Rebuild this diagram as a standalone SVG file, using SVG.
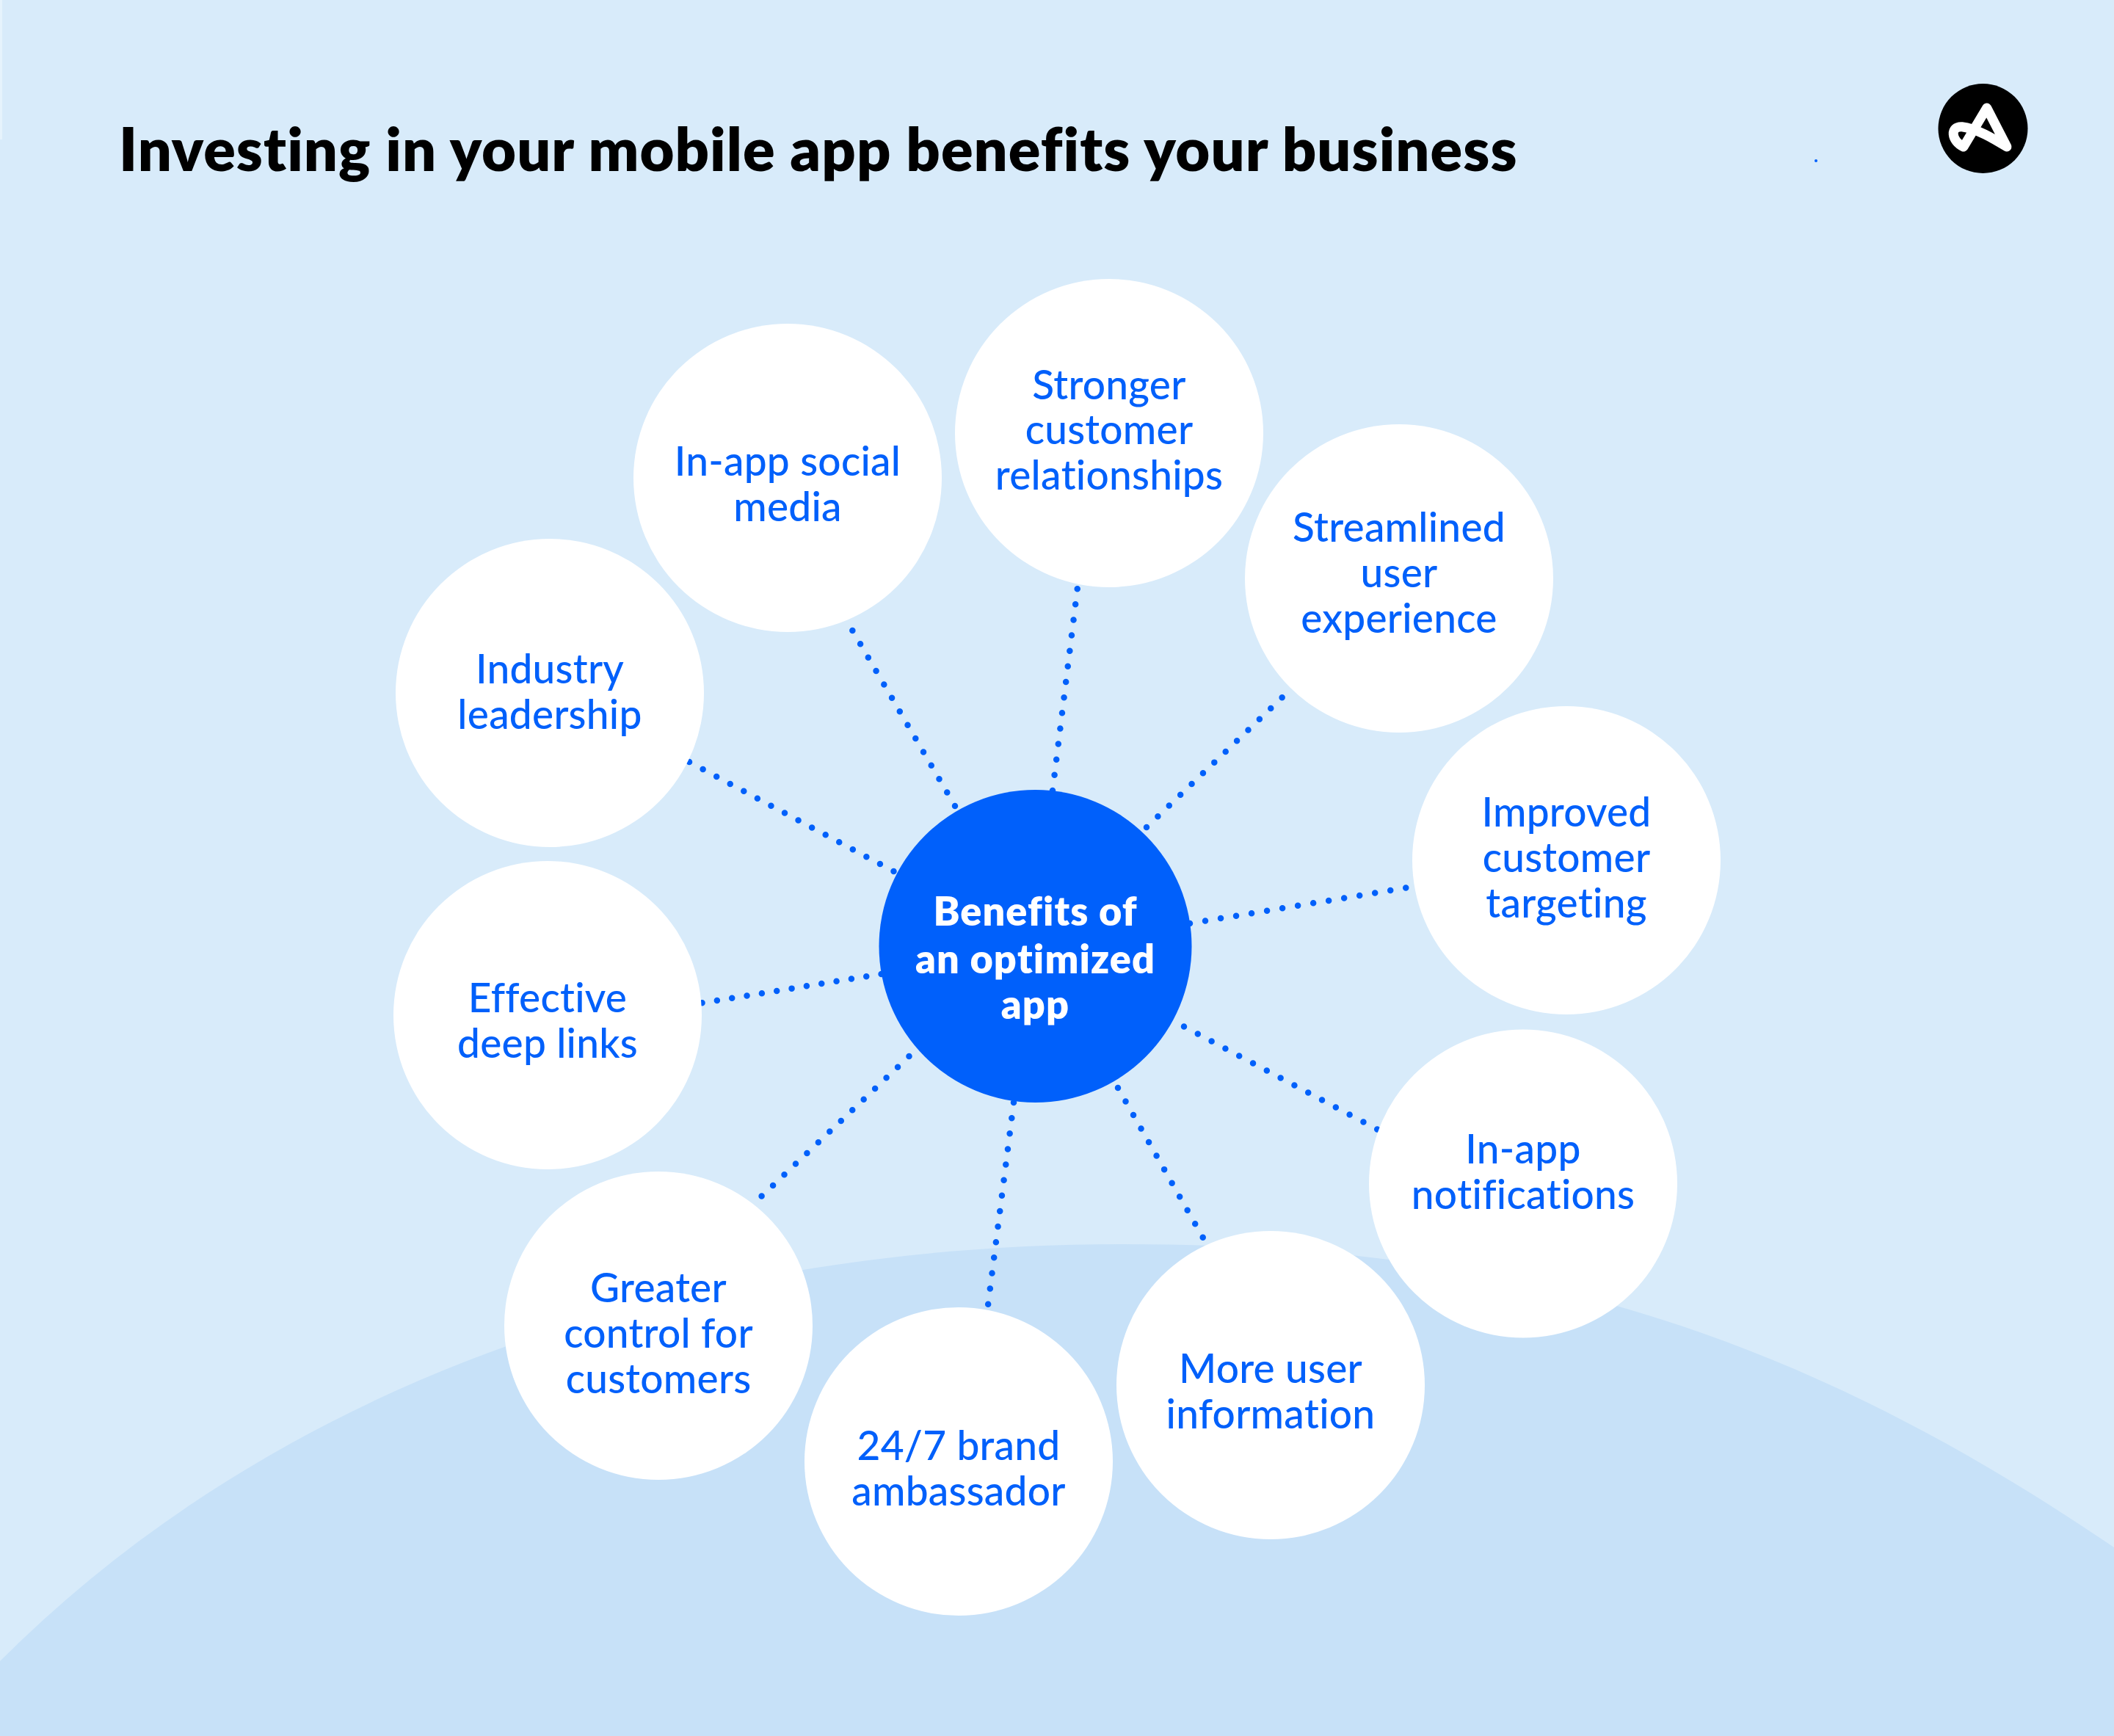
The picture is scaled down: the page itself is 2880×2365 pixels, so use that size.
<svg xmlns="http://www.w3.org/2000/svg" width="2880" height="2365" viewBox="0 0 2880 2365">
<style>
.bg{fill:#d8ebfa}.hill{fill:#c7e1f8}
.n{fill:#fff}
.c{fill:#0060fb}
.t{font-family:"Lato","Liberation Sans",sans-serif;font-size:55px;font-weight:500;fill:#0060fb;text-anchor:middle;letter-spacing:.25px}
.tc{font-family:"Lato","Liberation Sans",sans-serif;font-size:54px;font-weight:800;fill:#fff;text-anchor:middle;letter-spacing:1.1px}
.title{font-family:"Lato","Liberation Sans",sans-serif;font-size:81px;font-weight:800;fill:#000;letter-spacing:1.05px}
.nl{font-variant-ligatures:none}
#connectors line{stroke:#0060fb;stroke-width:8.5;stroke-linecap:round;stroke-dasharray:0 21.3}
#connectors line.d1{stroke-dasharray:0 21.05}
#connectors line.d2{stroke-dasharray:0 20.6}
</style>
<rect class="bg" width="2880" height="2365"/>
<rect x="0" y="0" width="3" height="190" fill="#e6f3fc"/>
<path class="hill" d="M0,2263 C380,1883 930,1695 1530,1695 C2030,1695 2420,1795 2880,2108 L2880,2365 L0,2365 Z"/>
<text class="title" x="162" y="233">Inves<tspan class="nl">ti</tspan>ng in your mobile app benefits your business</text>
<circle cx="2474" cy="219" r="2" fill="#0060fb"/>
<g id="logo"><circle cx="2701.5" cy="175" r="61" fill="#000"/><path d="M2675,200 L2706.7,147 L2734,200 C2716,189 2693,175 2673,172.7 C2656,171.7 2658,192 2675,200 Z" fill="none" stroke="#fff" stroke-width="13" stroke-linejoin="round"/></g>
<g id="connectors">
<line x1="1434" y1="1077" x2="1468" y2="800"/>
<line x1="1301" y1="1098" x2="1155" y2="848"/>
<line x1="1562" y1="1127" x2="1749" y2="948"/>
<line class="d1" x1="1217.5" y1="1187" x2="937" y2="1037"/>
<line x1="1621" y1="1258" x2="1919" y2="1209"/>
<line class="d2" x1="1200.6" y1="1327" x2="955" y2="1366.5"/>
<line x1="1238.5" y1="1439" x2="1034" y2="1633"/>
<line x1="1381" y1="1502" x2="1346" y2="1778"/>
<line x1="1523" y1="1482" x2="1640" y2="1688"/>
<line x1="1613" y1="1398.5" x2="1877" y2="1539"/>
</g>
<g id="center"><circle class="c" cx="1410.5" cy="1289" r="213"/><text class="tc" x="1410.5" y="1261">Benefits of</text><text class="tc" x="1410.5" y="1325.5">an op<tspan class="nl">ti</tspan>mized</text><text class="tc" x="1410.5" y="1388">app</text></g>
<g id="stronger"><circle class="n" cx="1511" cy="590" r="210"/><text class="t" x="1511" y="543.5">Stronger</text><text class="t" x="1511" y="605">customer</text><text class="t" x="1511" y="667">rela<tspan class="nl">ti</tspan>onships</text></g>
<g id="social"><circle class="n" cx="1073" cy="651" r="210"/><text class="t" x="1073" y="647.5">In-app social</text><text class="t" x="1073" y="709.5">media</text></g>
<g id="industry"><circle class="n" cx="749" cy="944" r="210"/><text class="t" x="749" y="930.5">Industry</text><text class="t" x="749" y="992.5">leadership</text></g>
<g id="links"><circle class="n" cx="746" cy="1383" r="210"/><text class="t" x="746" y="1378.5">Effec<tspan class="nl">ti</tspan>ve</text><text class="t" x="746" y="1440.5">deep links</text></g>
<g id="control"><circle class="n" cx="897" cy="1806" r="210"/><text class="t" x="897" y="1773.5">Greater</text><text class="t" x="897" y="1835.5">control for</text><text class="t" x="897" y="1897.5">customers</text></g>
<g id="ambassador"><circle class="n" cx="1306" cy="1991" r="210"/><text class="t" x="1306" y="1988.5">24/7 brand</text><text class="t" x="1306" y="2050.5">ambassador</text></g>
<g id="info"><circle class="n" cx="1731" cy="1887" r="210"/><text class="t" x="1731" y="1884">More user</text><text class="t" x="1731" y="1946">informa<tspan class="nl">ti</tspan>on</text></g>
<g id="notif"><circle class="n" cx="2075" cy="1612.5" r="210"/><text class="t" x="2075" y="1584.5">In-app</text><text class="t" x="2075" y="1646.5">no<tspan class="nl">ti</tspan>fica<tspan class="nl">ti</tspan>ons</text></g>
<g id="targeting"><circle class="n" cx="2134" cy="1172" r="210"/><text class="t" x="2134" y="1125.5">Improved</text><text class="t" x="2134" y="1187.5">customer</text><text class="t" x="2134" y="1249.5">targe<tspan class="nl">ti</tspan>ng</text></g>
<g id="streamlined"><circle class="n" cx="1906" cy="788" r="210"/><text class="t" x="1906" y="738">Streamlined</text><text class="t" x="1906" y="800">user</text><text class="t" x="1906" y="862">experience</text></g>
</svg>
